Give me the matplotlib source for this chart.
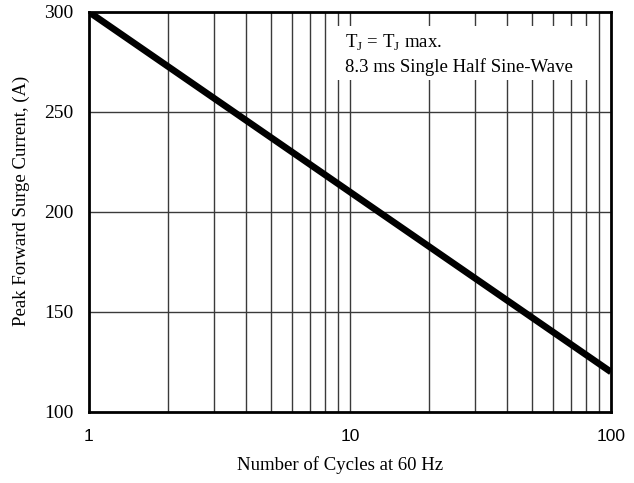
import numpy as np
import matplotlib
matplotlib.use("Agg")
import matplotlib.pyplot as plt
from matplotlib.patches import Rectangle

plt.rcParams["mathtext.fontset"] = "custom"
plt.rcParams["mathtext.rm"] = "Liberation Serif"

# surge current vs number of cycles (straight on log axis)
cycles = [1, 100]
current = [300, 120]

y_ticks = [100, 150, 200, 250, 300]
x_ticks = [1, 10, 100]
x_tick_labels = ["1", "10", "100"]

serif = "Liberation Serif"
sans = "Liberation Sans"

fig = plt.figure(figsize=(6.34, 4.83), dpi=100)
ax = fig.add_axes([89 / 634, 1 - 412 / 483, 522 / 634, 400 / 483])

ax.set_xscale("log")
ax.set_xlim(1, 100)
ax.set_ylim(100, 300)

grid_c = "#3a3a3a"
minor = [m * d for d in (1, 10) for m in range(2, 10)]
for xv in minor + [10]:
    ax.axvline(xv, color=grid_c, lw=1.0, zorder=1)
for yv in y_ticks[1:-1]:
    ax.axhline(yv, color=grid_c, lw=1.0, zorder=1)

# white note box covering the grid
ax.add_patch(Rectangle((0.472, 0.83), 0.49, 0.135,
                       transform=ax.transAxes, facecolor="white",
                       edgecolor="none", zorder=2))

ax.plot(cycles, current, color="black", lw=4.8, zorder=3, solid_capstyle="butt")

ax.text(0.49, 0.9225, r"T$_\mathregular{J}$ = T$_\mathregular{J}$ max.",
        transform=ax.transAxes, fontsize=13.5, family=serif, zorder=4, va="center")
ax.text(0.49, 0.863, "8.3 ms Single Half Sine-Wave",
        transform=ax.transAxes, fontsize=13.5, family=serif, zorder=4, va="center")

ax.set_xticks(x_ticks)
ax.set_xticklabels(x_tick_labels, family=sans, fontsize=12.5)
ax.xaxis.set_minor_locator(matplotlib.ticker.NullLocator())
ax.set_yticks(y_ticks)
ax.set_yticklabels([str(v) for v in y_ticks], family=serif, fontsize=14)
ax.tick_params(length=0)
ax.tick_params(axis="y", pad=11)
ax.tick_params(axis="x", pad=12)

for s in ax.spines.values():
    s.set_linewidth(2)
    s.set_zorder(5)

ax.set_xlabel("Number of Cycles at 60 Hz", family=serif, fontsize=13.5)
ax.xaxis.set_label_coords((340 - 89) / 522, -(465 - 412) / 400)
ax.xaxis.label.set_va("center")
ax.set_ylabel("Peak Forward Surge Current, (A)", family=serif, fontsize=13.5)
ax.yaxis.set_label_coords((21 - 89) / 522, (412 - 201) / 400)
ax.yaxis.label.set_va("center")

fig.savefig("out.png", dpi=100)
